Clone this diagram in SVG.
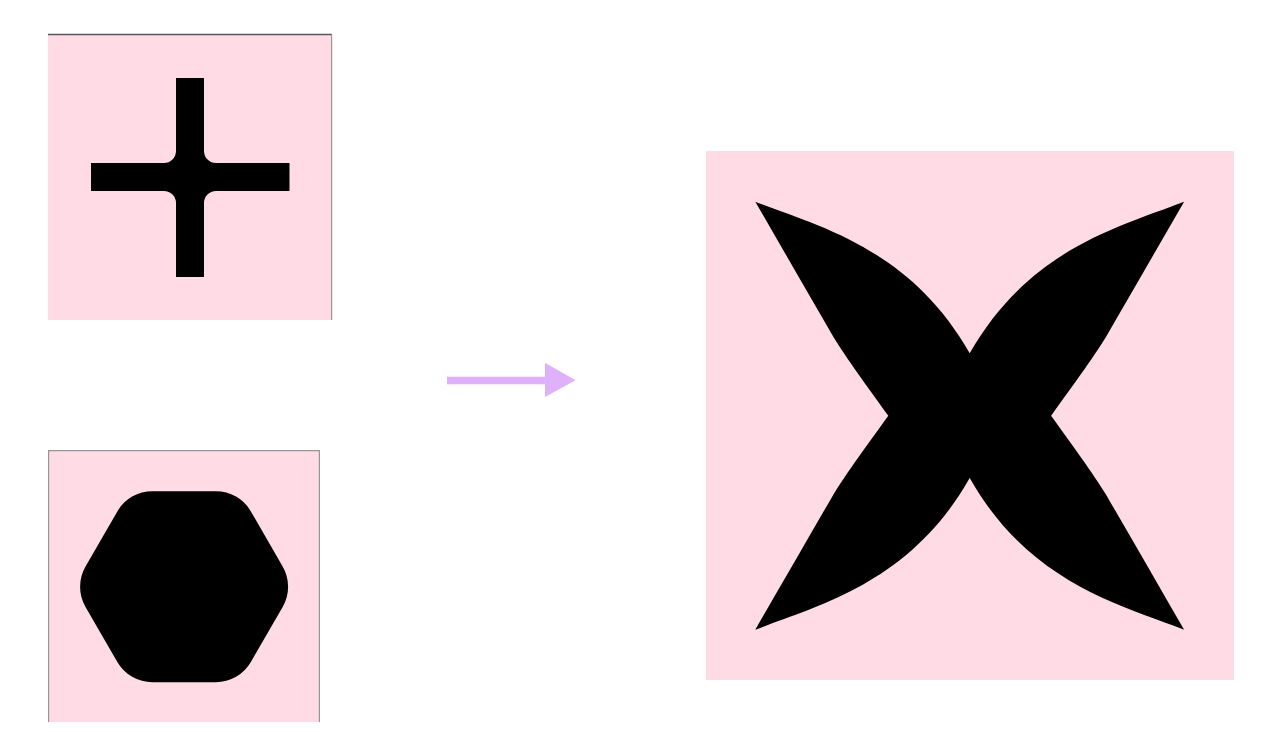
<svg xmlns="http://www.w3.org/2000/svg" width="1280" height="732" viewBox="0 0 1280 732">
<style>
.panel{fill:#ffdbe6}
.edge{stroke:#9a9496;stroke-width:1.2;fill:none}
.ink{fill:#000}
.arrow{fill:#dfb1fb}
</style>
<rect width="1280" height="732" fill="#fff"/>
<g id="plus-panel">
<rect class="panel" x="48" y="35" width="284" height="285"/>
<line x1="48" y1="34.6" x2="332" y2="34.6" stroke="#5a5657" stroke-width="1.5"/>
<line class="edge" x1="331.6" y1="34" x2="331.6" y2="320"/>
<path class="ink" d="M176,78 H204 V151 A12,12 0 0 0 216,163 H289.5 V191 H216 A12,12 0 0 0 204,203 V277 H176 V203 A12,12 0 0 0 164,191 H91 V163 H164 A12,12 0 0 0 176,151 Z"/>
</g>
<g id="hexagon-panel">
<rect class="panel" x="48" y="451" width="271.5" height="271"/>
<line class="edge" x1="48.6" y1="450.5" x2="48.6" y2="722"/>
<line class="edge" x1="48" y1="450.6" x2="320" y2="450.6"/>
<line class="edge" x1="319.4" y1="450" x2="319.4" y2="722"/>
<polygon class="ink" stroke="#000" stroke-width="81" stroke-linejoin="round" points="247.6,586.7 215.8,531.7 152.4,531.7 120.6,586.7 152.4,641.7 215.8,641.7"/>
</g>
<g id="connectors">
<rect class="arrow" x="447" y="376.7" width="99" height="7.6"/>
<polygon class="arrow" points="545,362.7 575.5,380.3 545,397"/>
</g>
<g id="x-panel">
<rect class="panel" x="706" y="151" width="528" height="529"/>
<path class="ink" transform="translate(969.7,415.7)" d="M0,-62.4 C59.2,-166.6 149.3,-189 214.4,-214 C187.7,-167.7 161.7,-122.7 136.4,-79 C123.7,-58.2 100.7,-26.7 81.4,0 C100.7,26.7 123.7,58.2 136.4,79 C161.7,122.7 187.7,167.7 214.4,214 C149.3,189 59.2,166.6 0,62.4 C-59.2,166.6 -149.3,189 -214.4,214 C-187.7,167.7 -161.7,122.7 -136.4,79 C-123.7,58.2 -100.7,26.7 -81.4,0 C-100.7,-26.7 -123.7,-58.2 -136.4,-79 C-161.7,-122.7 -187.7,-167.7 -214.4,-214 C-149.3,-189 -59.2,-166.6 0,-62.4 Z"/>
</g>
</svg>
